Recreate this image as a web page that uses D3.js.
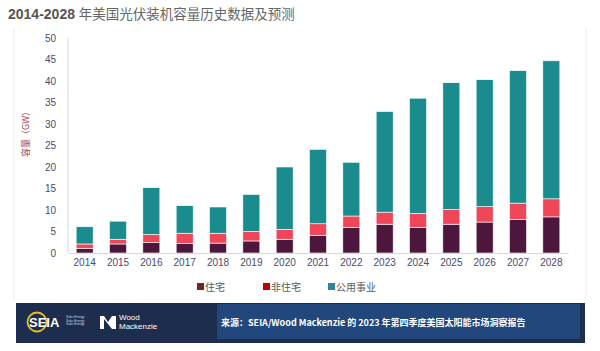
<!DOCTYPE html>
<html lang="zh">
<head>
<meta charset="utf-8">
<script src="https://d3js.org/d3.v7.min.js"></script>
<style>
  body { margin: 0; background: #fff; }
  svg { display: block; font-family: "Liberation Sans", Arial, sans-serif; }
</style>
</head>
<body>
<svg id="chart" width="600" height="351"></svg>
<script>
// data (GW)
var years = ["2014","2015","2016","2017","2018","2019","2020","2021","2022","2023","2024","2025","2026","2027","2028"];
var residential    = [1.1, 2.1, 2.4, 2.2, 2.3, 2.8, 3.2, 4.1, 5.9, 6.7, 5.9, 6.7, 7.2, 7.8, 8.4];
var nonResidential = [1.0, 1.1, 1.9, 2.4, 2.3, 2.2, 2.3, 2.7, 2.7, 2.8, 3.3, 3.4, 3.6, 3.8, 4.2];
var utility        = [4.0, 4.2, 10.9, 6.4, 6.1, 8.6, 14.5, 17.3, 12.5, 23.4, 26.8, 29.5, 29.5, 30.8, 32.1];
var seriesNames = ["住宅", "非住宅", "公用事业"];
var yTicks = [0, 5, 10, 15, 20, 25, 30, 35, 40, 45, 50];

var barColors = ["#4d163d", "#ef4658", "#1a8c8e"];
var legendColors = ["#7b2027", "#c00000", "#31849b"];

var svg = d3.select("#chart");

// faint slide frame
svg.append("line").attr("x1", 14).attr("x2", 14).attr("y1", 28).attr("y2", 300)
  .attr("stroke", "#ececec");
svg.append("line").attr("x1", 586).attr("x2", 586).attr("y1", 28).attr("y2", 300)
  .attr("stroke", "#ececec");

// title
var title = svg.append("text").attr("x", 8).attr("y", 19)
  .attr("font-size", 14).attr("fill", "#555");
title.append("tspan").attr("font-weight", "bold").text("2014-2028 ");
title.append("tspan").attr("font-family", "'Noto Sans CJK SC'").attr("font-size", 13.5)
  .attr("fill", "#666")
  .text("年美国光伏装机容量历史数据及预测");

var table = years.map(function(y, i) {
  return { year: y, "住宅": residential[i], "非住宅": nonResidential[i], "公用事业": utility[i] };
});
var stacked = d3.stack().keys(seriesNames)(table);

var x = d3.scaleBand().domain(years).range([68, 568]).paddingInner(0.49).paddingOuter(0.245);
var y = d3.scaleLinear().domain([0, 50]).range([253, 38]);

// axes lines
svg.append("line").attr("x1", 68).attr("x2", 68).attr("y1", y(50)).attr("y2", y(0))
  .attr("stroke", "#d9d9d9");

var yAxis = svg.append("g").attr("transform", "translate(68,0)")
  .call(d3.axisLeft(y).tickValues(yTicks).tickSize(0).tickPadding(12));
yAxis.select(".domain").remove();
yAxis.selectAll("text").attr("font-size", 10).attr("fill", "#4a4a6e")
  .attr("font-family", "'Liberation Sans', Arial, sans-serif");

// bars
svg.append("g").selectAll("g").data(stacked).join("g")
  .attr("fill", function(d, i) { return barColors[i]; })
  .selectAll("rect").data(function(d) { return d; }).join("rect")
  .attr("x", function(d) { return x(d.data.year); })
  .attr("y", function(d) { return y(d[1]); })
  .attr("width", x.bandwidth())
  .attr("height", function(d) { return y(d[0]) - y(d[1]); })
  .attr("stroke", "#fff").attr("stroke-width", 0.6);

var xAxis = svg.append("g").attr("transform", "translate(0," + y(0) + ")")
  .call(d3.axisBottom(x).tickSize(0).tickPadding(6));
xAxis.select(".domain").attr("stroke", "#d9d9d9");
xAxis.selectAll("text").attr("font-size", 10).attr("fill", "#4a4a6e")
  .attr("font-family", "'Liberation Sans', Arial, sans-serif");

// y axis title
svg.append("text").attr("transform", "translate(29,132) rotate(-90)")
  .attr("text-anchor", "middle").attr("font-size", 9).attr("fill", "#9b4a4a")
  .attr("font-family", "'Noto Sans CJK SC'").text("容量（GW）");

// legend
var legendX = [197, 263, 328];
var legend = svg.append("g").selectAll("g").data(seriesNames).join("g")
  .attr("transform", function(d, i) { return "translate(" + legendX[i] + ",283)"; });
legend.append("rect").attr("width", 7).attr("height", 7)
  .attr("fill", function(d, i) { return legendColors[i]; });
legend.append("text").attr("x", 8).attr("y", 7.5).attr("font-size", 10).attr("fill", "#595959")
  .attr("font-family", "'Noto Sans CJK SC'").text(function(d) { return d; });

// footer band
svg.append("rect").attr("x", 16).attr("y", 303).attr("width", 569).attr("height", 40).attr("fill", "#1c2d4d");
svg.append("rect").attr("x", 217).attr("y", 304).attr("width", 363).attr("height", 35).attr("fill", "#21477d");
svg.append("text").attr("x", 221).attr("y", 326).attr("font-size", 9).attr("fill", "#fff")
  .attr("font-weight", "bold").attr("font-family", "'Noto Sans CJK SC'")
  .text("来源：SEIA/Wood Mackenzie 的 2023 年第四季度美国太阳能市场洞察报告");

// SEIA logo
svg.append("circle").attr("cx", 37).attr("cy", 322).attr("r", 9.5).attr("fill", "none")
  .attr("stroke", "#e7c220").attr("stroke-width", 1.8);
svg.append("text").attr("x", 29).attr("y", 327).attr("font-size", 13).attr("font-weight", "bold")
  .attr("fill", "#fff").text("SEIA");
[318, 321.5, 325].forEach(function(yy) {
  svg.append("text").attr("x", 66).attr("y", yy).attr("font-size", 3.2).attr("fill", "#cfd6e2").text("Solar Energy");
});
// Wood Mackenzie logo
svg.append("path").attr("d", "M100,316 L104,316 L108,322 L112,316 L116,316 L116,329 L112,329 L104,319 L104,329 L100,329 Z")
  .attr("fill", "#fff");
svg.append("text").attr("x", 119).attr("y", 320).attr("font-size", 8).attr("fill", "#fff").text("Wood");
svg.append("text").attr("x", 119).attr("y", 328.5).attr("font-size", 8).attr("fill", "#fff").text("Mackenzie");
</script>
</body>
</html>
